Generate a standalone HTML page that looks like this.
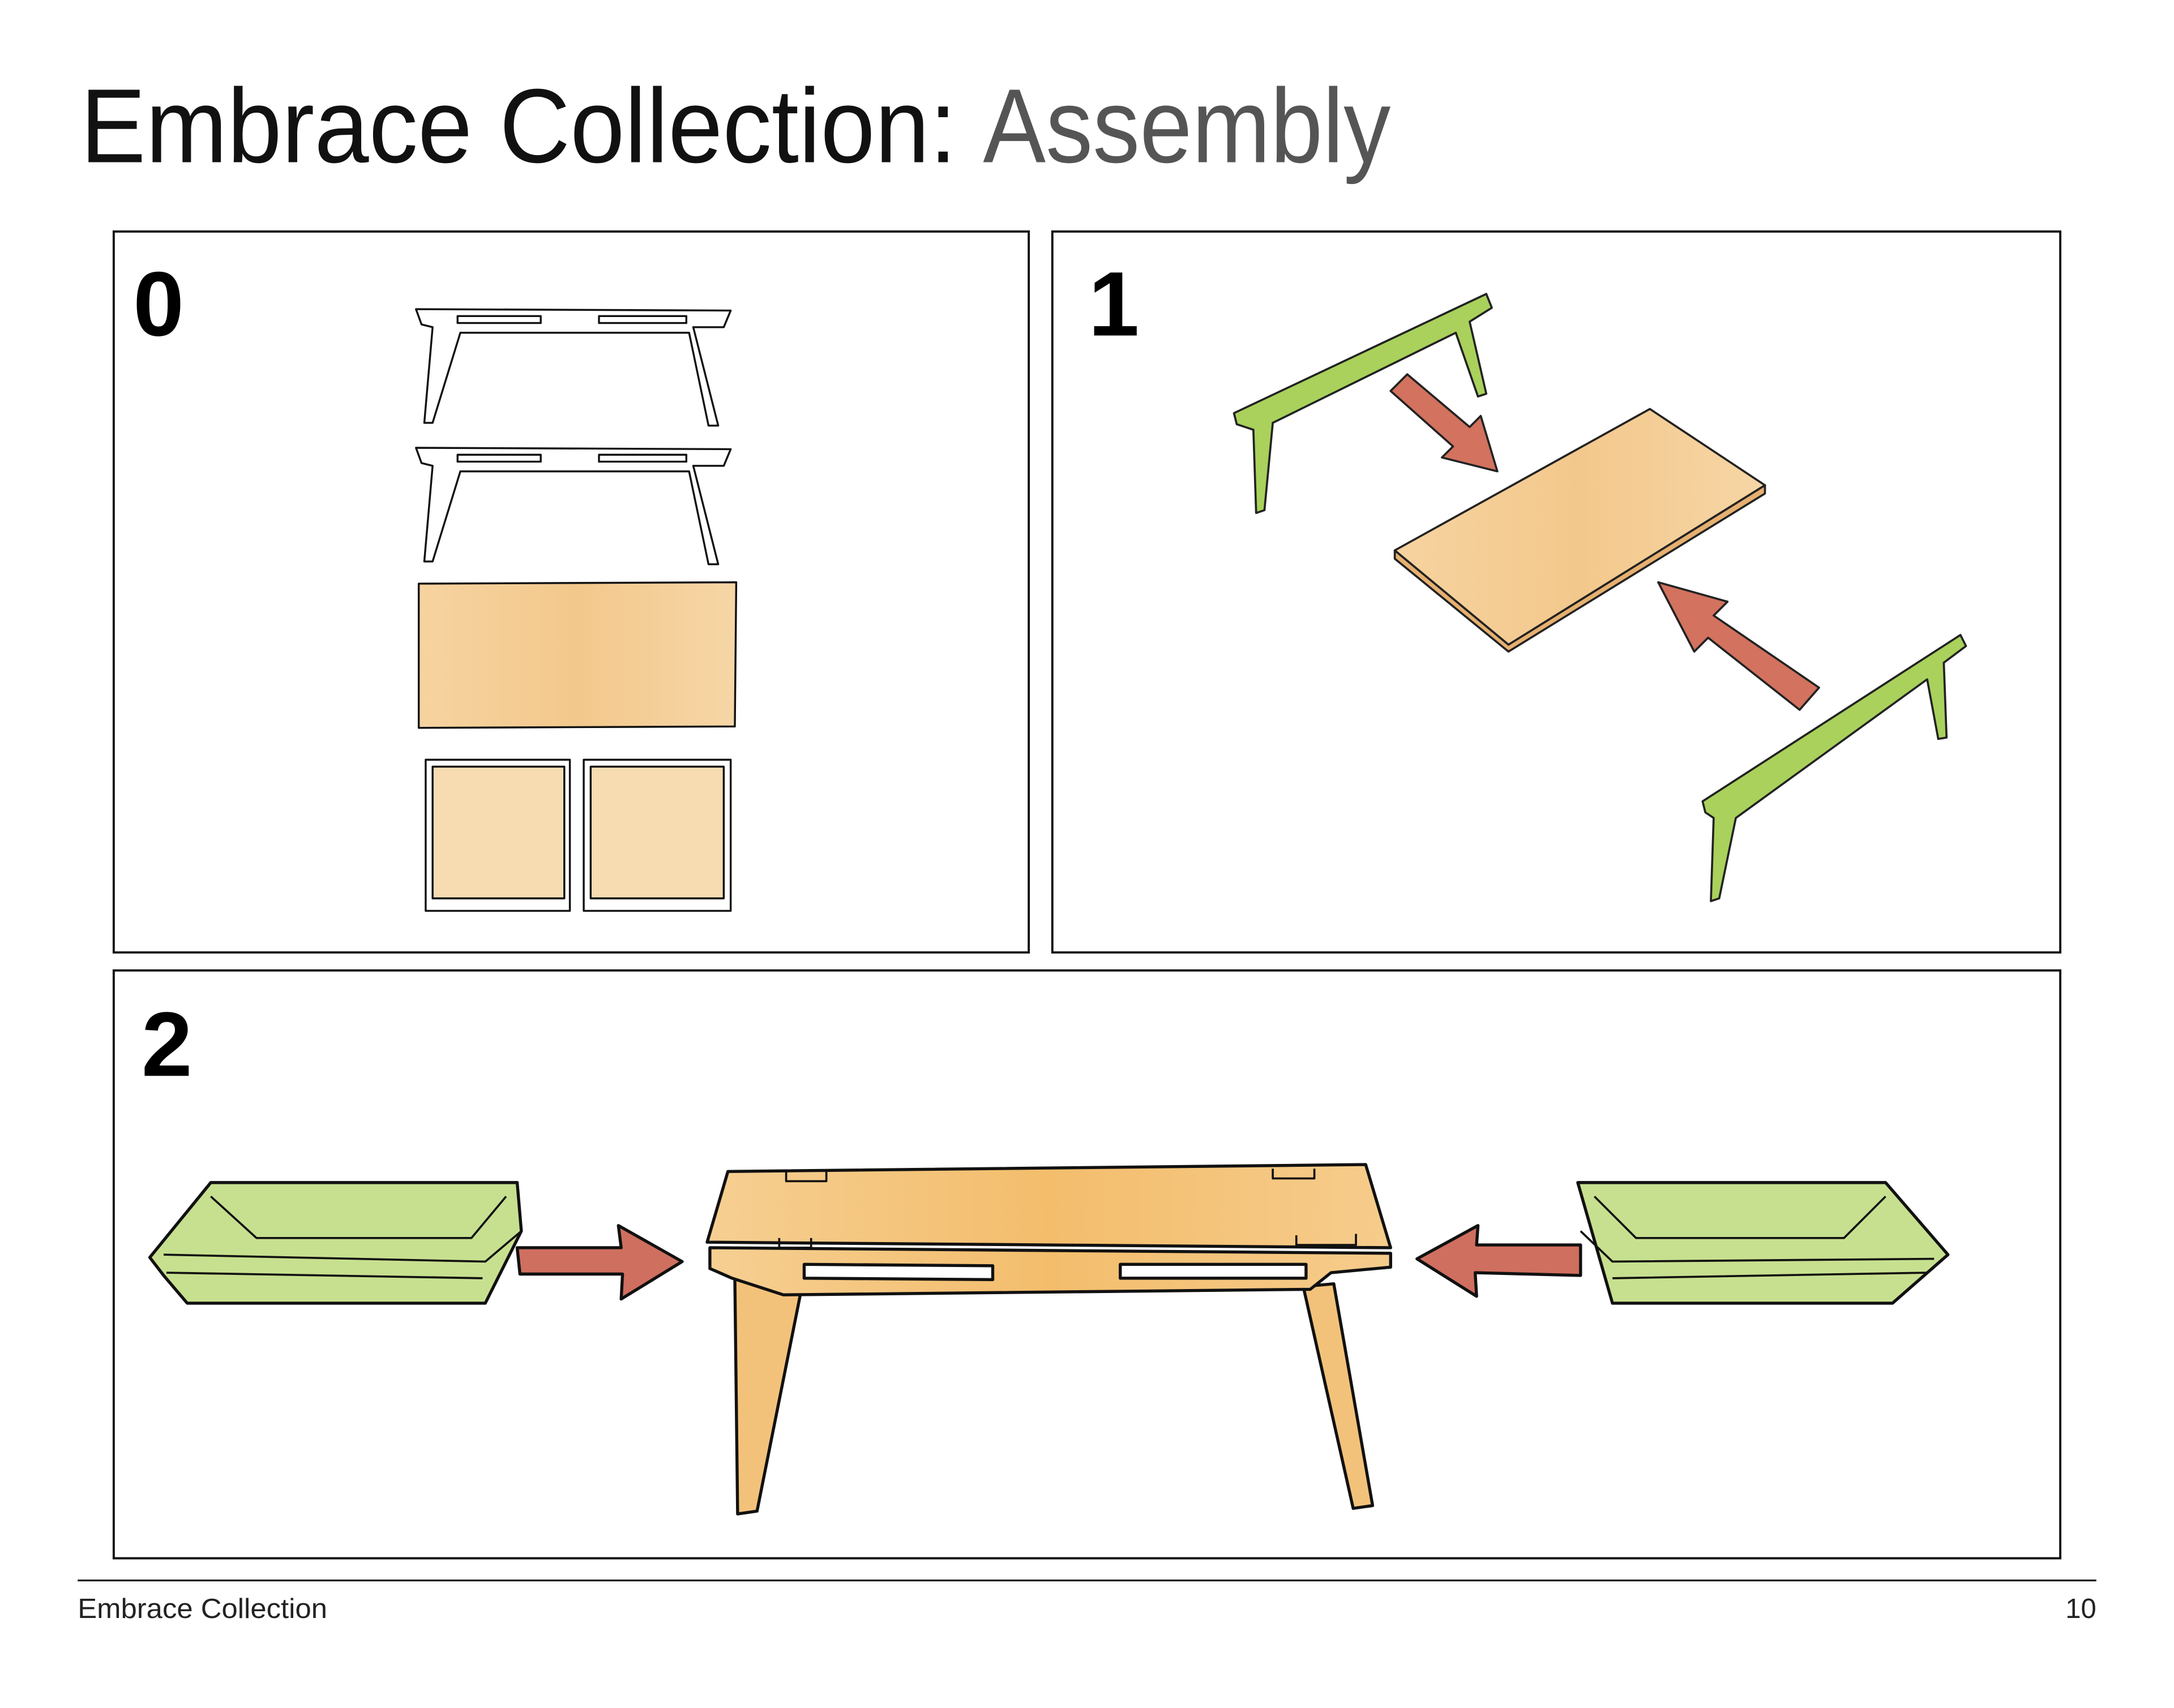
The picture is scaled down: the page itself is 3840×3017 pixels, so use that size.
<!DOCTYPE html>
<html><head><meta charset="utf-8"><style>
html,body{margin:0;padding:0;background:#fff;}
svg{display:block;}
</style></head><body>
<svg width="3840" height="3017" viewBox="0 0 1568 1232" xmlns="http://www.w3.org/2000/svg" font-family="Liberation Sans, sans-serif">
<defs>
<linearGradient id="wood" x1="0" y1="0" x2="1" y2="0"><stop offset="0" stop-color="#f6d3a0"/><stop offset="0.5" stop-color="#f3c88c"/><stop offset="1" stop-color="#f6d6a6"/></linearGradient>
<linearGradient id="bench" x1="0" y1="0" x2="1" y2="0"><stop offset="0" stop-color="#f6cf92"/><stop offset="0.5" stop-color="#f3bd6c"/><stop offset="1" stop-color="#f6cc8c"/></linearGradient>
</defs>
<rect width="1568" height="1232" fill="#fff"/>
<text x="58" y="117" font-size="76" fill="#111" textLength="632" lengthAdjust="spacingAndGlyphs">Embrace Collection:</text>
<text x="709" y="117" font-size="76" fill="#555" textLength="294" lengthAdjust="spacingAndGlyphs">Assembly</text>

<g fill="none" stroke="#111" stroke-width="1.6">
<rect x="82" y="167" width="660" height="520"/>
<rect x="759" y="167" width="727" height="520"/>
<rect x="82" y="700" width="1404" height="424"/>
</g>
<text x="96" y="242" font-size="66" font-weight="bold" fill="#000">0</text>
<text x="785" y="242" font-size="66" font-weight="bold" fill="#000">1</text>
<text x="102" y="776" font-size="66" font-weight="bold" fill="#000">2</text>

<!-- Panel 0 -->
<g stroke="#111" stroke-width="1.4" fill="#fff" stroke-linejoin="round">
<path d="M300,223 L527,224 L522,236 L500,236 L518,307 L511,307 L497,240 L332,240 L312,305 L306,305 L312,236 L304,234 Z"/>
<path d="M330,228 L390,228 L390,233 L330,233 Z M432,228 L495,228 L495,233 L432,233 Z" fill="none"/>
<path d="M300,323 L527,324 L522,336 L500,336 L518,407 L511,407 L497,340 L332,340 L312,405 L306,405 L312,336 L304,334 Z"/>
<path d="M330,328 L390,328 L390,333 L330,333 Z M432,328 L495,328 L495,333 L432,333 Z" fill="none"/>
<path d="M302,421 L531,420 L530,524 L302,525 Z" fill="url(#wood)"/>
<path d="M307,548 L411,548 L411,657 L307,657 Z"/>
<path d="M312,553 L407,553 L407,648 L312,648 Z" fill="#f7dcb2"/>
<path d="M421,548 L527,548 L527,657 L421,657 Z"/>
<path d="M426,553 L522,553 L522,648 L426,648 Z" fill="#f7dcb2"/>
</g>

<!-- Panel 1 -->
<g stroke="#222" stroke-width="1.5" stroke-linejoin="round">
<path d="M1006,397 L1006,403 L1088,470 L1273,356 L1273,350 L1088,465 Z" fill="#e6b070"/>
<path d="M1006,397 L1190,295 L1273,350 L1088,465 Z" fill="url(#wood)"/>
<path d="M890,298 L1072,212 L1076,222 L1060,232 L1072,284 L1066,286 L1050,240 L918,305 L912,368 L906,370 L904,310 L892,306 Z" fill="#a9d15c"/>
<path d="M1228,578 L1414,458 L1418,466 L1402,478 L1404,532 L1398,533 L1390,490 L1252,590 L1240,648 L1234,650 L1236,590 L1230,586 Z" fill="#a9d15c"/>
<path d="M1003,282 L1015,270 L1060,308 L1068,300 L1080,340 L1040,330 L1048,322 Z" fill="#d2725f"/>
<path d="M1312,496 L1298,512 L1232,460 L1222,470 L1196,420 L1246,434 L1236,444 Z" fill="#d2725f"/>
</g>

<!-- Panel 2 -->
<g stroke="#111" stroke-width="2.2" stroke-linejoin="round">
<path d="M108,907 L152,853 L373,853 L376,888 L350,940 L135,940 L118,920 Z" fill="#c7e08f"/>
<path d="M152,863 L185,893 L340,893 L365,863" fill="none" stroke-width="1.5"/>
<path d="M118,905 L350,910 L376,888 M120,918 L348,922" fill="none" stroke-width="1.5"/>
<path d="M1138,853 L1360,853 L1405,905 L1365,940 L1163,940 Z" fill="#c7e08f"/>
<path d="M1150,863 L1180,893 L1330,893 L1360,863" fill="none" stroke-width="1.5"/>
<path d="M1140,888 L1163,910 L1395,908 M1163,922 L1390,918" fill="none" stroke-width="1.5"/>
<path d="M373,900 L448,900 L446,884 L492,910 L448,937 L449,919 L375,919 Z" fill="#cf6f5f"/>
<path d="M1140,898 L1065,898 L1066,884 L1022,908 L1065,935 L1064,918 L1140,920 Z" fill="#cf6f5f"/>
<path d="M530,922 L578,930 L546,1090 L532,1092 Z" fill="#f3c27a"/>
<path d="M940,928 L962,926 L990,1086 L976,1088 Z" fill="#f3c27a"/>
<path d="M512,900 L1003,904 L1003,914 L960,918 L945,930 L565,934 L528,922 L512,915 Z" fill="url(#bench)"/>
<path d="M525,845 L985,840 L1003,900 L510,896 Z" fill="url(#bench)"/>
<path d="M580,912 L716,913 L716,923 L580,922 Z M808,912 L942,912 L942,922 L808,922 Z" fill="#fff"/>
<path d="M567,845 L567,852 L596,852 L596,845 M918,843 L918,850 L948,850 L948,843 M562,893 L562,900 L585,900 L585,893 M935,891 L935,898 L978,898 L978,890" fill="none" stroke-width="1.5"/>
</g>

<line x1="56" y1="1140" x2="1512" y2="1140" stroke="#111" stroke-width="1.3"/>
<text x="56" y="1167" font-size="20" fill="#222" textLength="180" lengthAdjust="spacingAndGlyphs">Embrace Collection</text>
<text x="1512" y="1167" font-size="20" fill="#222" text-anchor="end">10</text>
</svg>
</body></html>
